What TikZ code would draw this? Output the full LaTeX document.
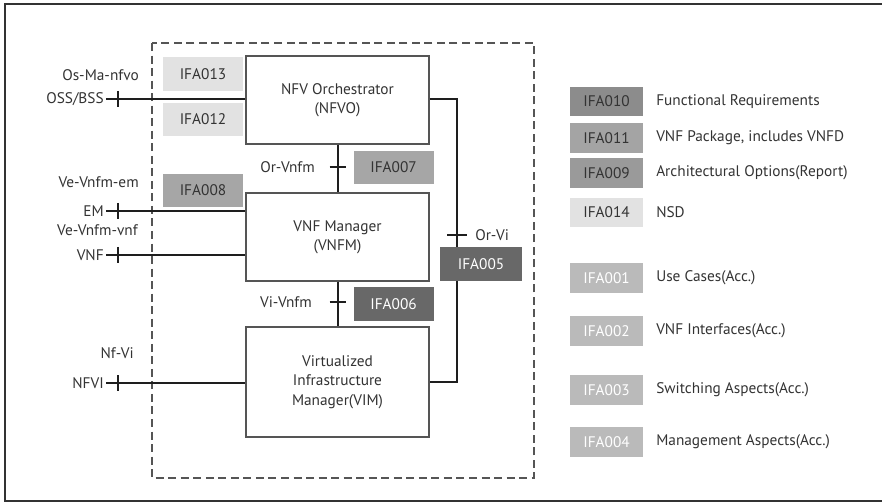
\documentclass[tikz,border=0pt]{standalone}
\usepackage{fontspec}
\setmainfont{PT Sans}
\usetikzlibrary{calc}
\definecolor{ink}{HTML}{333333}
\definecolor{boxline}{HTML}{555555}
\definecolor{wire}{HTML}{1E1E1E}
\definecolor{tagdark}{HTML}{686868}
\definecolor{tagmid}{HTML}{A6A6A6}
\definecolor{taglight}{HTML}{E2E2E2}
\definecolor{tagacc}{HTML}{BABABA}
\definecolor{tagreq}{HTML}{8C8C8C}
\definecolor{tagpkg}{HTML}{A4A4A4}
\definecolor{tagopt}{HTML}{9A9A9A}
\newcommand{\lbl}{\fontsize{11.5}{14.6}\selectfont}
\tikzset{>=latex,
    block/.style={draw=boxline, fill=white, line width=1pt, minimum width=137.25pt,
        align=center, text=ink, font=\lbl},
    tag/.style={minimum width=60pt, minimum height=25pt, inner sep=0pt, text=ink, font=\lbl},
    key/.style={minimum width=55pt, minimum height=22pt, inner sep=0pt, text=ink, font=\lbl},
    txt/.style={inner sep=1.5pt, text=ink, font=\lbl},
    link/.style={draw=wire, line width=1.5pt},
    tick/.style={draw=wire, line width=2pt}}

\begin{document}
\begin{tikzpicture}[x=0.75pt, y=-0.75pt]
    \useasboundingbox (0,0) rectangle (882,502);
    \draw[draw=ink, line width=1.1pt] (5,4) rectangle (890,501);
    \draw[draw=boxline, line width=1.1pt, dash pattern=on 6pt off 3.4pt] (152,43) rectangle (534,478);

    % functional blocks
    \node[block, minimum height=66pt] at (337.5,100) (nfvo) {NFV Orchestrator\\(NFVO)};
    \node[block, minimum height=66pt] at (337.5,237) (vnfm) {VNF Manager\\(VNFM)};
    \node[block, minimum height=82.5pt] at (337.5,382) (vim) {Virtualized\\Infrastructure\\Manager(VIM)};

    % external end points
    \node[txt, anchor=east] at (106,99) (oss) {OSS/BSS};
    \node[txt, anchor=east] at (106,211) (em) {EM};
    \node[txt, anchor=east] at (106,255) (vnf) {VNF};
    \node[txt, anchor=east] at (106,383) (nfvi) {NFVI};

    % reference points
    \node[txt, anchor=east] at (141,75) (osma) {Os-Ma-nfvo};
    \node[txt, anchor=east] at (141,182) (vevnfmem) {Ve-Vnfm-em};
    \node[txt, anchor=east] at (140,230) (vevnfmvnf) {Ve-Vnfm-vnf};
    \node[txt, anchor=east] at (136,353) (nfvi-rp) {Nf-Vi};
    \node[txt, anchor=east] at (317,167) (orvnfm) {Or-Vnfm};
    \node[txt, anchor=east] at (314,302) (vivnfm) {Vi-Vnfm};
    \node[txt, anchor=west] at (473,235) (orvi) {Or-Vi};

    % specification tags
    \node[tag, fill=taglight] at (203,74) (ifa013) {IFA013};
    \node[tag, fill=taglight] at (203,119.5) (ifa012) {IFA012};
    \node[tag, fill=tagmid] at (203,190.5) (ifa008) {IFA008};
    \node[tag, fill=tagmid] at (393.5,167.5) (ifa007) {IFA007};
    \node[tag, fill=tagdark, text=white] at (393.5,304) (ifa006) {IFA006};
    \node[tag, fill=tagdark, text=white, minimum width=61.5pt] at (481,264) (ifa005) {IFA005};

    % interfaces
    \draw[link] (oss.east) -- (oss.east -| nfvo.west);
    \draw[link] (em.east) -- (em.east -| vnfm.west);
    \draw[link] (vnf.east) -- (vnf.east -| vnfm.west);
    \draw[link] (nfvi.east) -- (nfvi.east -| vim.west);
    \draw[link] (nfvo.south) -- (vnfm.north);
    \draw[link] (vnfm.south) -- (vim.north);
    \coordinate (orvi-top) at (457,99);
    \draw[link] (nfvo.east |- orvi-top) -- (orvi-top) -- (orvi-top |- ifa005.north);
    \draw[link] (orvi-top |- ifa005.south) |- (vim.east);

    % reference point marks
    \foreach \p in {oss, em, vnf, nfvi}
        \draw[tick] ($(\p.east) + (12,-8)$) -- ++(0,16);
    \draw[tick] ($(nfvo.south |- orvnfm) + (-8,0)$) -- ++(16,0);
    \draw[tick] ($(vnfm.south |- vivnfm) + (-8,0)$) -- ++(16,0);
    \draw[tick] ($(orvi-top |- orvi) + (-10,0)$) -- ++(20,0);

    % legend
    \foreach \id/\col/\tcol/\y/\desc in {
            010/tagreq/ink/101.5/Functional Requirements,
            011/tagpkg/ink/138/{VNF Package, includes VNFD},
            009/tagopt/ink/173/Architectural Options(Report),
            014/taglight/ink/212.5/NSD,
            001/tagacc/white/278/Use Cases(Acc.),
            002/tagacc/white/331/VNF Interfaces(Acc.),
            003/tagacc/white/390/Switching Aspects(Acc.),
            004/tagacc/white/442/Management Aspects(Acc.)} {
        \node[key, fill=\col, text=\tcol] at (606.5,\y) (key\id) {IFA\id};
        \node[txt, anchor=west] at (654,\y) (desc\id) {\desc};
    }
\end{tikzpicture}
\end{document}
